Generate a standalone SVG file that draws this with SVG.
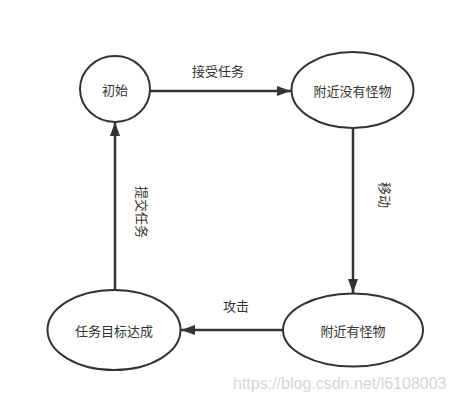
<svg xmlns="http://www.w3.org/2000/svg" width="454" height="402" viewBox="0 0 454 402">
<style>
.node ellipse{fill:#fff;stroke:#333;stroke-width:2}
.lbl{font-family:"Noto Sans CJK SC","Liberation Sans",sans-serif;font-size:13px;fill:#333;text-anchor:middle;dominant-baseline:central}
.edge line{stroke:#333;stroke-width:2.5}
.wm{font-family:"Liberation Sans",Arial,sans-serif;font-size:16px;fill:#d6d6d6}
</style>
<defs>
<marker id="arr" viewBox="0 0 14 10" refX="14" refY="5" markerWidth="14" markerHeight="10" markerUnits="userSpaceOnUse" orient="auto">
<path d="M0,0 L14,5 L0,10 Z" fill="#333"/>
</marker>
</defs>
<rect width="454" height="402" fill="#fff"/>
<g id="edges" class="edge">
<line x1="150" y1="91" x2="291" y2="91" marker-end="url(#arr)"/>
<line x1="353" y1="128" x2="353" y2="293" marker-end="url(#arr)"/>
<line x1="283" y1="330" x2="181" y2="330" marker-end="url(#arr)"/>
<line x1="115" y1="290" x2="115" y2="122" marker-end="url(#arr)"/>
<text class="lbl" x="218" y="70">接受任务</text>
<text class="lbl" transform="translate(385,195) rotate(90)">移动</text>
<text class="lbl" x="236" y="305">攻击</text>
<text class="lbl" transform="translate(142,212) rotate(90)">提交任务</text>
</g>
<g id="n-start" class="node">
<ellipse cx="115" cy="89" rx="35" ry="33"/>
<text class="lbl" x="115" y="89">初始</text>
</g>
<g id="n-nomonster" class="node">
<ellipse cx="352.5" cy="90" rx="61" ry="38"/>
<text class="lbl" x="352.5" y="90">附近没有怪物</text>
</g>
<g id="n-monster" class="node">
<ellipse cx="353" cy="330" rx="70" ry="36.5"/>
<text class="lbl" x="353" y="330">附近有怪物</text>
</g>
<g id="n-done" class="node">
<ellipse cx="114" cy="330" rx="66.5" ry="40"/>
<text class="lbl" x="114" y="330">任务目标达成</text>
</g>
<text class="wm" x="233" y="389">https://blog.csdn.net/l6108003</text>
</svg>
